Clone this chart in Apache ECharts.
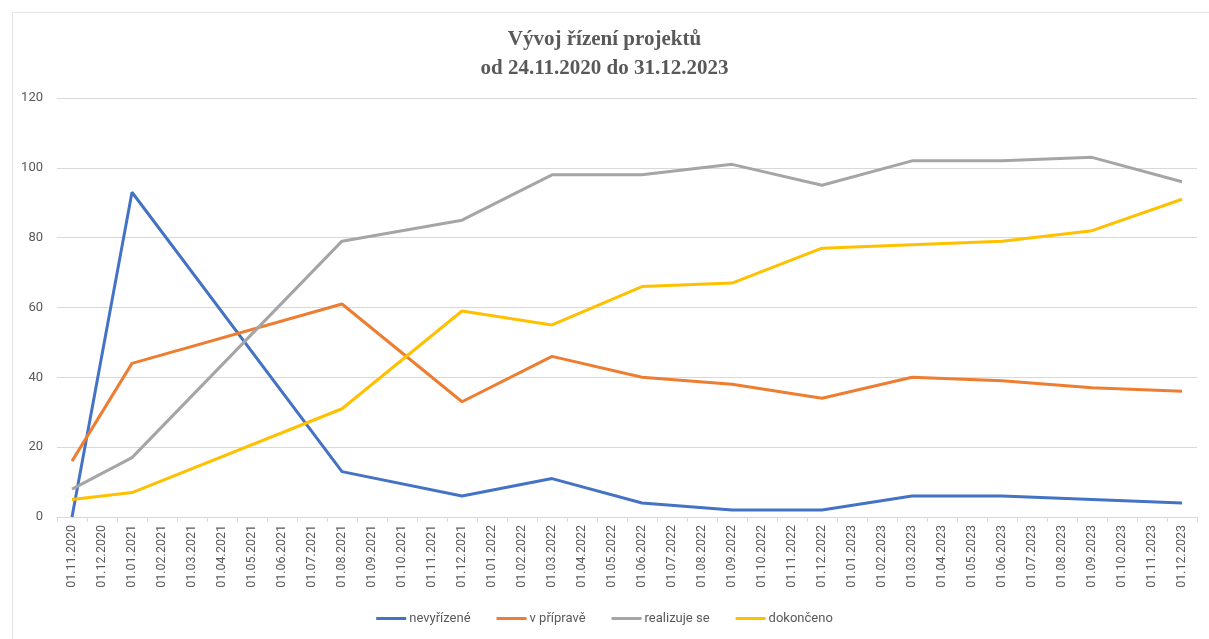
<!DOCTYPE html>
<html lang="cs">
<head>
<meta charset="utf-8">
<title>Vývoj řízení projektů</title>
<script src="https://cdn.jsdelivr.net/npm/echarts@6/dist/echarts.min.js"></script>
<style>
  html, body { margin: 0; padding: 0; background: #fff; }
  #frame { position: absolute; left: 12px; top: 12px; width: 1200px; height: 640px; border: 1px solid #e6e6e6; box-sizing: border-box; }
  #main { position: absolute; left: 0; top: 0; width: 1209px; height: 639px; }
</style>
</head>
<body>
<div id="frame"></div>
<div id="main"></div>
<script>
// měsíce na ose x
const months = [
  '01.11.2020','01.12.2020',
  '01.01.2021','01.02.2021','01.03.2021','01.04.2021','01.05.2021','01.06.2021',
  '01.07.2021','01.08.2021','01.09.2021','01.10.2021','01.11.2021','01.12.2021',
  '01.01.2022','01.02.2022','01.03.2022','01.04.2022','01.05.2022','01.06.2022',
  '01.07.2022','01.08.2022','01.09.2022','01.10.2022','01.11.2022','01.12.2022',
  '01.01.2023','01.02.2023','01.03.2023','01.04.2023','01.05.2023','01.06.2023',
  '01.07.2023','01.08.2023','01.09.2023','01.10.2023','01.11.2023','01.12.2023'
];

// měsíce, ve kterých je hodnota
const dataMonths = ['01.11.2020','01.01.2021','01.08.2021','01.12.2021','01.03.2022','01.06.2022',
                    '01.09.2022','01.12.2022','01.03.2023','01.06.2023','01.09.2023','01.12.2023'];

const nevyrizene = [0, 93, 13, 6, 11, 4, 2, 2, 6, 6, 5, 4];
const vPriprave  = [16, 44, 61, 33, 46, 40, 38, 34, 40, 39, 37, 36];
const realizuje  = [8, 17, 79, 85, 98, 98, 101, 95, 102, 102, 103, 96];
const dokonceno  = [5, 7, 31, 59, 55, 66, 67, 77, 78, 79, 82, 91];

const yTicks = [0, 20, 40, 60, 80, 100, 120];

function toSeries(values) {
  const out = months.map(() => null);
  dataMonths.forEach((m, i) => { out[months.indexOf(m)] = values[i]; });
  return out;
}

function line(name, values, color) {
  return {
    name: name,
    type: 'line',
    data: toSeries(values),
    connectNulls: true,
    showSymbol: false,
    symbol: 'none',
    lineStyle: { width: 3, color: color },
    itemStyle: { color: color }
  };
}

const chart = echarts.init(document.getElementById('main'));

const option = {
  animation: false,
  textStyle: { fontFamily: 'Roboto, "Noto Sans", sans-serif' },
  title: {
    text: 'Vývoj řízení projektů\nod 24.11.2020 do 31.12.2023',
    left: 'center',
    top: 20,
    textStyle: {
      fontFamily: '"Liberation Serif", "DejaVu Serif", serif',
      fontSize: 21,
      fontWeight: 'bold',
      color: '#595959',
      lineHeight: 29
    }
  },
  legend: {
    bottom: 9,
    left: 'center',
    icon: 'rect',
    itemWidth: 30,
    itemHeight: 3,
    itemGap: 26,
    textStyle: { color: '#595959', fontSize: 13, padding: [0, 0, 0, -2] },
    data: ['nevyřízené', 'v přípravě', 'realizuje se', 'dokončeno']
  },
  grid: { left: 57, right: 12, top: 98, bottom: 122 },
  xAxis: {
    type: 'category',
    data: months,
    boundaryGap: true,
    axisLine: { lineStyle: { color: '#d9d9d9', width: 1 } },
    axisTick: { show: true, alignWithLabel: false, length: 5, lineStyle: { color: '#d9d9d9' } },
    axisLabel: { rotate: 90, interval: 0, color: '#595959', fontSize: 12.5, margin: 8 }
  },
  yAxis: {
    type: 'value',
    min: yTicks[0],
    max: yTicks[yTicks.length - 1],
    interval: 20,
    axisLine: { show: false },
    axisTick: { show: false },
    axisLabel: { color: '#595959', fontSize: 13, margin: 14 },
    splitLine: { lineStyle: { color: '#d9d9d9', width: 1 } }
  },
  series: [
    line('nevyřízené', nevyrizene, '#4472C4'),
    line('v přípravě', vPriprave, '#ED7D31'),
    line('realizuje se', realizuje, '#A5A5A5'),
    line('dokončeno', dokonceno, '#FFC000')
  ]
};

chart.setOption(option);
</script>
</body>
</html>
